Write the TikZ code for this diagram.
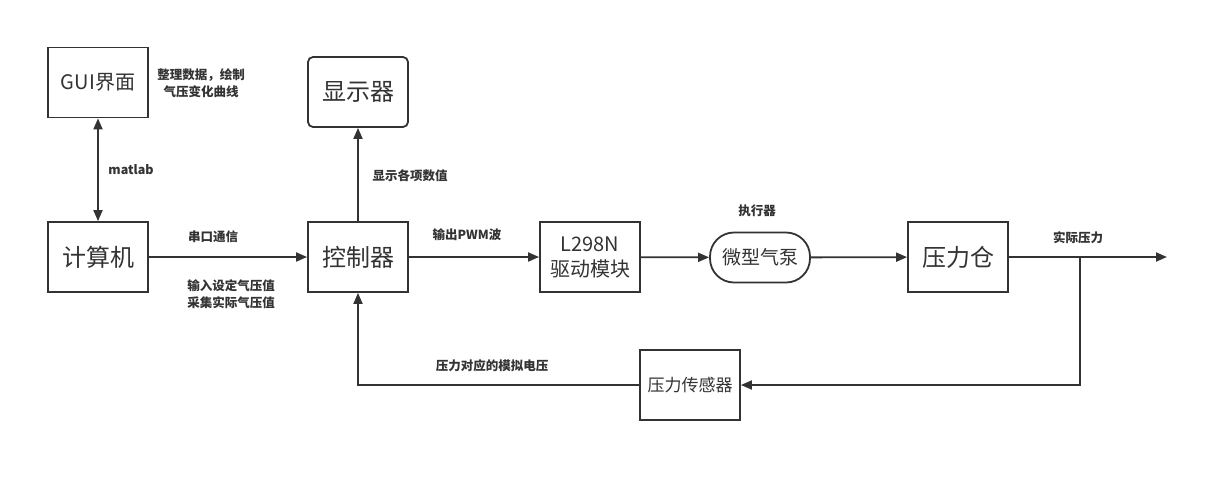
\documentclass[tikz,border=0pt]{standalone}
\usepackage{fontspec}
\setmainfont{Noto Sans CJK SC}
\newfontfamily\cjk{Noto Sans CJK SC}
\usetikzlibrary{arrows.meta,positioning}
\definecolor{ink}{HTML}{333333}
\tikzset{
  blk/.style={draw=ink,line width=1.8pt,minimum width=100pt,minimum height=70pt,inner sep=0pt,align=center,text=ink,font=\cjk\fontsize{24}{28}\selectfont},
  conn/.style={draw=ink,line width=1.8pt,-{Triangle[length=11pt,width=9pt]}},
  lbl/.style={text=ink,font=\cjk\bfseries\fontsize{12.5}{16.5}\selectfont,align=center,inner sep=0pt}
}
\begin{document}
\begin{tikzpicture}[x=1pt,y=-1pt]
\useasboundingbox[fill=white] (0,0) rectangle (1227,483);
\node[blk,font=\cjk\fontsize{20}{24}\selectfont] (gui) at (98,82.5) {GUI界面};
\node[blk] (pc) at (98,257) {计算机};
\node[blk,rounded corners=5pt] (disp) at (358,92) {显示器};
\node[blk] (ctrl) at (358,257) {控制器};
\node[blk,font=\cjk\fontsize{20}{25}\selectfont] (drv) at (590,257) {L298N\\驱动模块};
\node[blk,minimum height=50pt,rounded corners=24pt,font=\cjk\fontsize{19}{23}\selectfont] (pump) at (760,257.5) {微型气泵};
\node[blk] (tank) at (958,257) {压力仓};
\node[blk,font=\cjk\fontsize{17}{21}\selectfont] (sens) at (690,385) {压力传感器};
\coordinate (out) at (1167,257);
\coordinate (br) at (1080,257);

\draw[conn,{Triangle[length=11pt,width=9pt]}-{Triangle[length=11pt,width=9pt]}] (gui) -- (pc);
\draw[conn] (ctrl) -- (disp);
\draw[conn] (pc) -- (ctrl);
\draw[conn] (ctrl) -- (drv);
\draw[conn] (drv) -- (pump);
\draw[conn] (pump) -- (tank);
\draw[conn] (tank) -- (out);
\draw[conn] (br) |- (sens.east);
\draw[conn] (sens.west) -| (ctrl.south);

\node[lbl] (l1) at (201,83) {整理数据，绘制\\气压变化曲线};
\node[lbl] (l2) at (131,170) {matlab};
\node[lbl] (l3) at (213,237) {串口通信};
\node[lbl] (l4) at (231,294) {输入设定气压值\\采集实际气压值};
\node[lbl] (l5) at (410,176) {显示各项数值};
\node[lbl] (l6) at (467,235) {输出PWM波};
\node[lbl] (l7) at (757,211) {执行器};
\node[lbl] (l8) at (1078,238) {实际压力};
\node[lbl] (l9) at (492,366) {压力对应的模拟电压};
\end{tikzpicture}
\end{document}
